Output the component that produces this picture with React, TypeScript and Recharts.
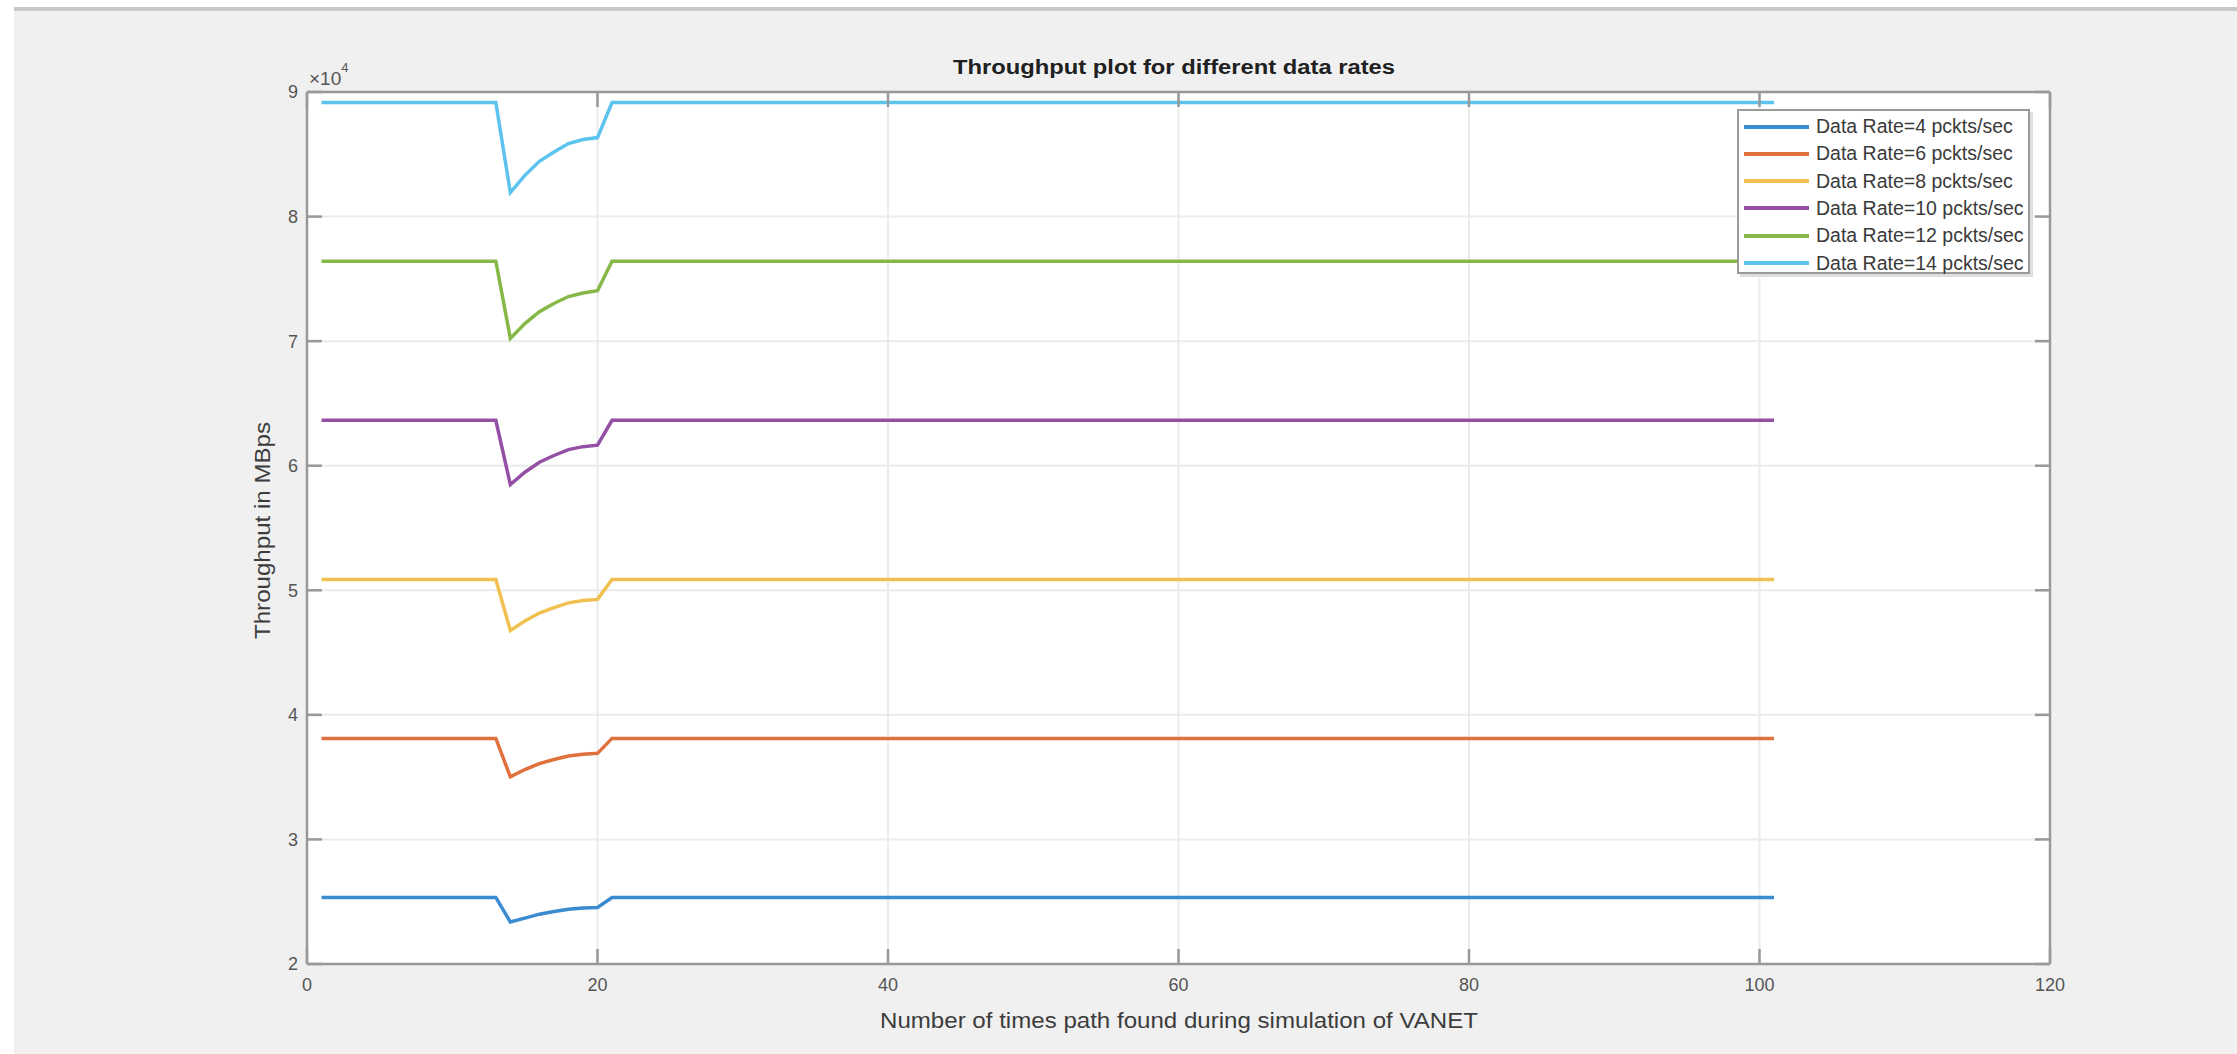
import React from 'react';
import { LineChart, Line, XAxis, YAxis, CartesianGrid, Legend } from 'recharts';

// x positions (number of times path found) where the series change slope
const xValues = [1, 13, 14, 15, 16, 17, 18, 19, 20, 21, 101];

// throughput values (MBps)
const rate4 = [25340, 25340, 23370, 23680, 24000, 24210, 24400, 24500, 24540, 25340, 25340];
const rate6 = [38110, 38110, 35020, 35610, 36090, 36420, 36700, 36840, 36910, 38110, 38110];
const rate8 = [50870, 50870, 46780, 47540, 48170, 48610, 48990, 49180, 49270, 50870, 50870];
const rate10 = [63650, 63650, 58490, 59480, 60280, 60820, 61290, 61530, 61650, 63650, 63650];
const rate12 = [76410, 76410, 70220, 71410, 72360, 73020, 73580, 73870, 74050, 76410, 76410];
const rate14 = [89150, 89150, 81930, 83310, 84440, 85190, 85860, 86180, 86340, 89150, 89150];

const seriesNames = [
  'Data Rate=4 pckts/sec',
  'Data Rate=6 pckts/sec',
  'Data Rate=8 pckts/sec',
  'Data Rate=10 pckts/sec',
  'Data Rate=12 pckts/sec',
  'Data Rate=14 pckts/sec',
];
const seriesKeys = ['r4', 'r6', 'r8', 'r10', 'r12', 'r14'];
const seriesColors = ['#3b8bd0', '#e0703c', '#f0c050', '#9450a5', '#85b847', '#5cc3ef'];

const xTicks = [0, 20, 40, 60, 80, 100, 120];
const yTicks = [20000, 30000, 40000, 50000, 60000, 70000, 80000, 90000];

const allSeries = [rate4, rate6, rate8, rate10, rate12, rate14];
const data = xValues.map((x, i) => {
  const row: Record<string, number> = { x };
  seriesKeys.forEach((k, s) => {
    row[k] = allSeries[s][i];
  });
  return row;
});

const FONT = '"Liberation Sans", Arial, Helvetica, sans-serif';
const AXIS = '#999999';

const renderLegend = (props: any) => {
  const payload = [...(props.payload || [])].sort(
    (a: any, b: any) => seriesNames.indexOf(a.value) - seriesNames.indexOf(b.value)
  );
  return (
    <div
      style={{
        width: 289,
        height: 161,
        background: '#ffffff',
        border: '2px solid #9a9a9a',
        boxShadow: '3px 3px 0 #dedede',
        boxSizing: 'content-box',
        fontFamily: FONT,
        position: 'relative',
      }}
    >
      {payload.map((entry: any, i: number) => (
        <div
          key={i}
          style={{
            position: 'absolute',
            left: 0,
            top: 2 + i * 27.3,
            height: 27,
            display: 'flex',
            alignItems: 'center',
          }}
        >
          <div style={{ marginLeft: 5, width: 65, height: 4, background: entry.color }} />
          <span
            style={{
              marginLeft: 7,
              fontSize: 19.5,
              color: '#3a3a3a',
              whiteSpace: 'nowrap',
              lineHeight: '27px',
            }}
          >
            {entry.value}
          </span>
        </div>
      ))}
    </div>
  );
};

export default function App() {
  return (
    <div
      style={{
        position: 'absolute',
        left: 0,
        top: 0,
        width: 2237,
        height: 1054,
        background: '#f0f0f0',
        overflow: 'hidden',
        fontFamily: FONT,
      }}
    >
      <div style={{ position: 'absolute', left: 0, top: 0, width: 14, height: 1054, background: '#ffffff' }} />
      <div style={{ position: 'absolute', left: 0, top: 0, width: 2237, height: 7, background: '#ffffff' }} />
      <div style={{ position: 'absolute', left: 14, top: 7, width: 2223, height: 4, background: '#c8c8c8' }} />

      <div style={{ position: 'absolute', left: 0, top: 0 }}>
        <LineChart
          width={2237}
          height={1054}
          data={data}
          margin={{ top: 72, right: 167, bottom: 30, left: 247 }}
        >
          <CartesianGrid stroke="#ebebeb" strokeWidth={2} fill="#ffffff" fillOpacity={1} />
          <XAxis
            dataKey="x"
            type="number"
            domain={[0, 120]}
            ticks={xTicks}
            height={60}
            stroke={AXIS}
            strokeWidth={2.5}
            tickSize={-15}
            tickMargin={29}
            tick={{ fill: '#555555', fontSize: 18, fontFamily: FONT }}
            allowDataOverflow
          />
          <XAxis
            xAxisId="top"
            orientation="top"
            dataKey="x"
            type="number"
            domain={[0, 120]}
            ticks={xTicks}
            height={20}
            stroke={AXIS}
            strokeWidth={2.5}
            tickSize={-15}
            tickFormatter={() => ''}
            allowDataOverflow
          />
          <YAxis
            type="number"
            domain={[20000, 90000]}
            ticks={yTicks}
            width={60}
            stroke={AXIS}
            strokeWidth={2.5}
            tickSize={-15}
            tickMargin={24}
            tickFormatter={(v: number) => String(v / 10000)}
            tick={{ fill: '#555555', fontSize: 18, fontFamily: FONT }}
            allowDataOverflow
          />
          <YAxis
            yAxisId="right"
            orientation="right"
            type="number"
            domain={[20000, 90000]}
            ticks={yTicks}
            width={20}
            stroke={AXIS}
            strokeWidth={2.5}
            tickSize={-15}
            tickFormatter={() => ''}
            allowDataOverflow
          />
          {seriesKeys.map((k, i) => (
            <Line
              key={k}
              type="linear"
              dataKey={k}
              name={seriesNames[i]}
              stroke={seriesColors[i]}
              strokeWidth={3.5}
              dot={false}
              activeDot={false}
              isAnimationActive={false}
            />
          ))}
          <Legend
            layout="horizontal"
            verticalAlign="middle"
            align="center"
            content={renderLegend}
            wrapperStyle={{ position: 'absolute', left: 1737, top: 109, width: 296, height: 168 }}
          />
        </LineChart>
      </div>

      <svg
        width={2237}
        height={1054}
        style={{ position: 'absolute', left: 0, top: 0, pointerEvents: 'none' }}
      >
        <text
          x={953}
          y={74}
          fontSize={19.5}
          fontWeight="bold"
          fill="#202020"
          fontFamily={FONT}
          textLength={442}
          lengthAdjust="spacingAndGlyphs"
        >
          Throughput plot for different data rates
        </text>
        <text x={309} y={85} fontSize={19} fill="#555555" fontFamily={FONT}>
          ×10
          <tspan dy={-13} fontSize={13}>
            4
          </tspan>
        </text>
        <text
          x={880}
          y={1028}
          fontSize={22}
          fill="#3c3c3c"
          fontFamily={FONT}
          textLength={598}
          lengthAdjust="spacingAndGlyphs"
        >
          Number of times path found during simulation of VANET
        </text>
        <text
          transform="translate(270 531) rotate(-90)"
          x={-108}
          y={0}
          fontSize={22}
          fill="#3c3c3c"
          fontFamily={FONT}
          textLength={217}
          lengthAdjust="spacingAndGlyphs"
        >
          Throughput in MBps
        </text>
      </svg>
    </div>
  );
}
